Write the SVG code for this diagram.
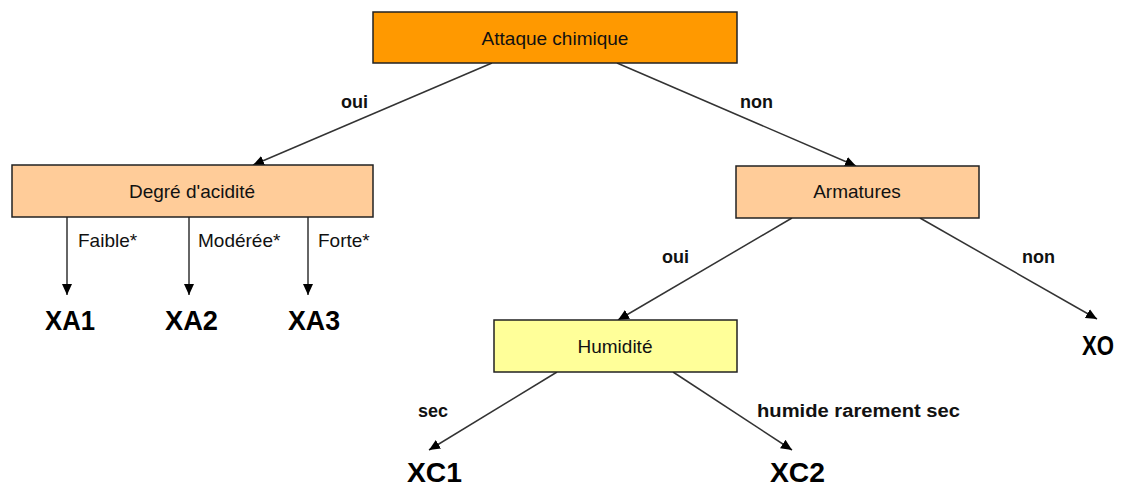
<svg xmlns="http://www.w3.org/2000/svg" width="1121" height="486" viewBox="0 0 1121 486">
  <defs>
    <marker id="arrow" markerUnits="userSpaceOnUse" markerWidth="12" markerHeight="12" viewBox="0 0 12 12" refX="11" refY="6" orient="auto">
      <path d="M0,1 L11,6 L0,11 Z" fill="#000"/>
    </marker>
    <style>
      .box { stroke: #222; stroke-width: 1.5; }
      .lbl { font-family: "Liberation Sans", Arial, sans-serif; font-size: 19px; fill: #111; }
      .edge { font-family: "Liberation Sans", Arial, sans-serif; font-size: 18px; font-weight: bold; fill: #111; }
      .leaf { font-family: "Liberation Sans", Arial, sans-serif; font-size: 28px; font-weight: bold; fill: #000; }
      .conn { stroke: #333; stroke-width: 1.5; fill: none; marker-end: url(#arrow); }
    </style>
  </defs>
  <rect width="1121" height="486" fill="#fff"/>

  <g id="connectors">
    <line class="conn" x1="492" y1="63" x2="253" y2="165"/>
    <line class="conn" x1="617" y1="63" x2="856" y2="166"/>
    <line class="conn" x1="67" y1="217" x2="67" y2="295"/>
    <line class="conn" x1="189" y1="217" x2="189" y2="295"/>
    <line class="conn" x1="308" y1="217" x2="308" y2="295"/>
    <line class="conn" x1="792" y1="218" x2="618" y2="320"/>
    <line class="conn" x1="920" y1="218" x2="1097" y2="319"/>
    <line class="conn" x1="557" y1="372" x2="429" y2="450"/>
    <line class="conn" x1="673" y1="372" x2="792" y2="450"/>
    <text class="edge" x="341" y="108">oui</text>
    <text class="edge" x="740" y="108">non</text>
    <text class="lbl" x="78" y="247">Faible*</text>
    <text class="lbl" x="198" y="247">Modérée*</text>
    <text class="lbl" x="318" y="247">Forte*</text>
    <text class="edge" x="662" y="263">oui</text>
    <text class="edge" x="1022" y="263">non</text>
    <text class="edge" x="418" y="417">sec</text>
    <text class="edge" x="757" y="417" textLength="203" lengthAdjust="spacingAndGlyphs">humide rarement sec</text>
  </g>

  <g id="attaque">
    <rect class="box" x="373" y="12" width="364" height="51" fill="#FF9900"/>
    <text class="lbl" x="555" y="45" text-anchor="middle">Attaque chimique</text>
  </g>
  <g id="acidite">
    <rect class="box" x="12" y="165" width="361" height="52" fill="#FFCC99"/>
    <text class="lbl" x="192" y="198" text-anchor="middle">Degré d'acidité</text>
  </g>
  <g id="armatures">
    <rect class="box" x="736" y="166" width="243" height="52" fill="#FFCC99"/>
    <text class="lbl" x="857" y="198" text-anchor="middle">Armatures</text>
  </g>
  <g id="humidite">
    <rect class="box" x="494" y="320" width="243" height="52" fill="#FFFF99"/>
    <text class="lbl" x="615" y="353" text-anchor="middle">Humidité</text>
  </g>

  <g id="xa1"><text class="leaf" x="45" y="330" textLength="50" lengthAdjust="spacingAndGlyphs">XA1</text></g>
  <g id="xa2"><text class="leaf" x="165" y="330" textLength="53" lengthAdjust="spacingAndGlyphs">XA2</text></g>
  <g id="xa3"><text class="leaf" x="288" y="330" textLength="52" lengthAdjust="spacingAndGlyphs">XA3</text></g>
  <g id="xo"><text class="leaf" x="1082" y="355" textLength="32" lengthAdjust="spacingAndGlyphs">XO</text></g>
  <g id="xc1"><text class="leaf" x="407" y="482" textLength="55" lengthAdjust="spacingAndGlyphs">XC1</text></g>
  <g id="xc2"><text class="leaf" x="770" y="482" textLength="55" lengthAdjust="spacingAndGlyphs">XC2</text></g>
</svg>
